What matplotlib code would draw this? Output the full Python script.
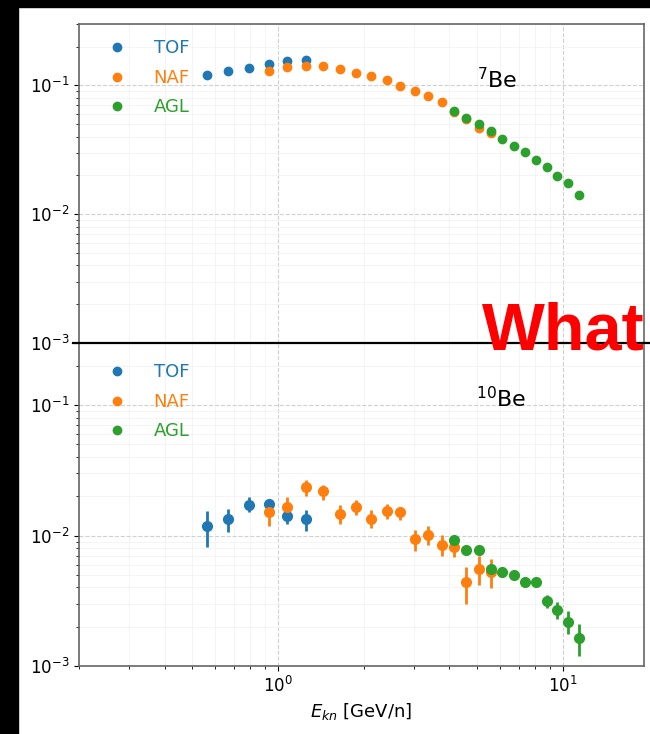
import numpy as np
import matplotlib
matplotlib.use("Agg")
from matplotlib import pyplot as plt
from matplotlib.lines import Line2D
from matplotlib.patches import Rectangle

# detector energies [GeV/n]
tof_x = [0.562, 0.669, 0.791, 0.930, 1.078, 1.251]
naf_x = [0.930, 1.078, 1.251, 1.442, 1.650, 1.874, 2.12, 2.41, 2.68, 3.02,
         3.37, 3.77, 4.16, 4.59, 5.07, 5.59]
agl_x = [4.16, 4.59, 5.07, 5.59, 6.14, 6.73, 7.37, 8.09, 8.81, 9.58, 10.44, 11.41]

# 7Be
tof7_y = [0.1196, 0.1285, 0.136, 0.147, 0.154, 0.158]
naf7_y = [0.1285, 0.1387, 0.141, 0.142, 0.1346, 0.126, 0.119, 0.1107, 0.0988,
          0.0904, 0.0822, 0.0738, 0.062, 0.055, 0.047, 0.043]
agl7_y = [0.0633, 0.0558, 0.0499, 0.044, 0.0386, 0.0338, 0.0303, 0.0266,
          0.0233, 0.0197, 0.0175, 0.0142]

# 10Be with error bands (low / high bounds)
tof10_y = [0.01177, 0.0134, 0.0173, 0.01762, 0.01423, 0.0134]
tof10_lo = [0.00815, 0.01064, 0.01511, 0.0163, 0.01227, 0.01089]
tof10_hi = [0.01538, 0.0161, 0.01973, 0.01925, 0.01581, 0.01566]
naf10_y = [0.01511, 0.0166, 0.02355, 0.02193, 0.01466, 0.0166, 0.01349, 0.01556,
           0.01511, 0.0094, 0.01014, 0.00849, 0.00815, 0.00438, 0.00554, 0.00523]
naf10_lo = [0.01177, 0.01364, 0.02028, 0.01889, 0.01227, 0.01449, 0.01137, 0.0134,
            0.01325, 0.00764, 0.00849, 0.00695, 0.00691, 0.00301, 0.00417, 0.00398]
naf10_hi = [0.0168, 0.01973, 0.02649, 0.02442, 0.0173, 0.0187, 0.01566, 0.0175,
            0.0166, 0.01109, 0.01177, 0.01014, 0.00929, 0.00578, 0.00703, 0.00662]
agl10_y = [0.00922, 0.00776, 0.00769, 0.00551, 0.00523, 0.00498, 0.00438, 0.00443,
           0.00316, 0.00269, 0.00217, 0.00164]
agl10_lo = [0.00885, 0.00745, 0.00738, 0.00529, 0.00502, 0.00478, 0.0042, 0.00425,
            0.00279, 0.00231, 0.00177, 0.00119]
agl10_hi = [0.0096, 0.0081, 0.008, 0.00574, 0.00545, 0.00519, 0.00456, 0.00461,
            0.00353, 0.0031, 0.00262, 0.00211]

labels = ["TOF", "NAF", "AGL"]
colors = ["#1f77b4", "#ff7f0e", "#2ca02c"]

W, H = 650, 734
fig = plt.figure(figsize=(W / 100, H / 100), dpi=100)
fig.patch.set_facecolor("white")

left = 79 / W
width = (644 - 79) / W
ax1 = fig.add_axes([left, 1 - 343 / H, width, (343 - 24) / H])
ax2 = fig.add_axes([left, 1 - 666 / H, width, (666 - 343) / H], sharex=ax1)


def style(ax, dy):
    ax.set_xscale("log")
    ax.set_yscale("log")
    ax.set_xlim(0.2, 19.3)
    ax.set_ylim(1e-3, 0.3)
    ax.grid(True, which="major", ls="--", color="#d0d0d0", lw=0.8)
    ax.grid(True, which="minor", ls="-", color="#f3f3f3", lw=0.6)
    ax.set_axisbelow(True)
    ax.tick_params(labelsize=12)
    for sp in ax.spines.values():
        sp.set_color("#666666")
        sp.set_linewidth(1.2)
    handles = [Line2D([], [], ls="", marker="o", ms=6, color=c) for c in colors]
    leg = ax.legend(handles, labels, loc="upper left", frameon=False, fontsize=13,
                    handletextpad=1.0, labelspacing=0.64, borderaxespad=0.45,
                    bbox_to_anchor=(0.009, 1 - dy))
    for t, c in zip(leg.get_texts(), colors):
        t.set_color(c)


# top panel: 7Be
ax1.plot(tof_x, tof7_y, "o", ms=6, color=colors[0])
ax1.plot(naf_x, naf7_y, "o", ms=6, color=colors[1])
ax1.plot(agl_x, agl7_y, "o", ms=6, color=colors[2])
style(ax1, 0.0)
ax1.tick_params(axis="x", which="both", labelbottom=False)
ax1.text(5.0, 0.0948, r"$^{7}$Be", fontsize=16, va="baseline")

# bottom panel: 10Be
for xs, ys, lo, hi, c in [(tof_x, tof10_y, tof10_lo, tof10_hi, colors[0]),
                          (naf_x, naf10_y, naf10_lo, naf10_hi, colors[1]),
                          (agl_x, agl10_y, agl10_lo, agl10_hi, colors[2])]:
    ys = np.array(ys)
    yerr = [ys - np.array(lo), np.array(hi) - ys]
    ax2.errorbar(xs, ys, yerr=yerr, fmt="o", ms=7, color=c, elinewidth=2, capsize=0)
style(ax2, 0.0155)
ax2.text(4.95, 0.0966, r"$^{10}$Be", fontsize=16, va="baseline")
ax2.set_xlabel(r"$E_{kn}$ [GeV/n]", fontsize=13)

# separator line and overlay text
fig.add_artist(Line2D([73 / W, 1.0], [1 - 343 / H, 1 - 343 / H], color="black", lw=1.6))
fig.text(482 / W, 1 - 349 / H, "What", color="red", fontsize=48, fontweight="bold",
         family="Liberation Sans", va="baseline", ha="left")

# black frame at top and left
fig.patches.append(Rectangle((0, 0), 18 / W, 1, transform=fig.transFigure,
                             color="black", zorder=10))
fig.patches.append(Rectangle((0, 1 - 7 / H), 1, 7 / H, transform=fig.transFigure,
                             color="black", zorder=10))

fig.savefig("out.png", dpi=100)
